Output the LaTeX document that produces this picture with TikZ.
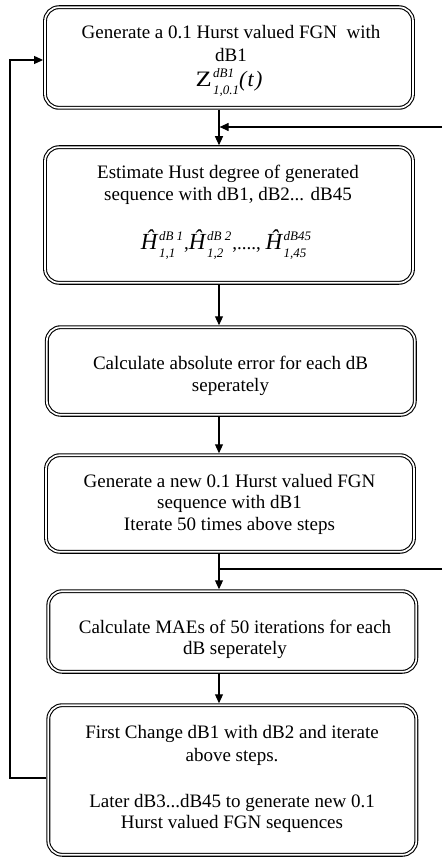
\documentclass[tikz,border=0pt]{standalone}
\usepackage{fontspec}
\setmainfont{Liberation Serif}
\usetikzlibrary{arrows.meta}
\newcommand\supsub[2]{\begingroup\fontsize{13}{13}\selectfont\itshape
  \setbox0=\hbox{#1}\setbox2=\hbox{#2}%
  \ifdim\wd0>\wd2 \wd2=\wd0 \fi
  \kern1.5pt\rlap{\raisebox{9pt}{\box0}}\raisebox{-8pt}{\box2}\endgroup}
\newcommand\mathsz{\fontsize{23}{24}\selectfont}
\newcommand\Hh{{\mathsz\itshape Ĥ}}
\newcommand\lines[1]{\begin{tabular}[t]{@{}c@{}}#1\end{tabular}}
\begin{document}
\begin{tikzpicture}[x=1pt,y=-1pt,
  flowbox/.style={draw, line width=1.1pt, double, double distance=1.7pt,
    rounded corners=14pt, inner sep=0pt, outer sep=1.95pt,
    minimum width=368pt},
  boxtext/.style={anchor=base, inner sep=0pt, font=\fontsize{19}{22}\selectfont},
  conn/.style={line width=1.1pt, -{Triangle[length=9pt,width=8pt]}},
  wire/.style={line width=1.1pt}]
\useasboundingbox (0,0) rectangle (442,858);

% boxes
\node[flowbox, minimum height=100.6pt] (b1) at (229,57.5) {};
\node[flowbox, minimum height=135.6pt] (b2) at (229,215) {};
\node[flowbox, minimum height=87.6pt] (b3) at (230.8,371) {};
\node[flowbox, minimum height=96.6pt] (b4) at (230,503.5) {};
\node[flowbox, minimum height=80.6pt] (b5) at (232.3,631.5) {};
\node[flowbox, minimum height=149.6pt] (b6) at (232.3,780) {};

% texts
\node[boxtext] (t1) at (231,39)
  {\lines{Generate a 0.1 Hurst valued FGN~ with\\[1pt] dB1}};
\node[boxtext] (m1) at (229,87)
  {{\fontsize{22}{24}\selectfont\scalebox{1.2}[1]{Z}}\supsub{dB1}{1,0.1}{\fontsize{22}{24}\selectfont\itshape (\kern1pt t\kern1.5pt)}};
\node[boxtext] (t2) at (228,178.5)
  {\lines{Estimate Hust degree of generated\\[0.5pt] sequence with dB1, dB2... dB45}};
\node[boxtext] (m2) at (226,250)
  {\Hh\supsub{dB 1}{1,1}\kern1pt ,\Hh\supsub{dB 2}{1,2}\kern1pt ,...., \Hh\supsub{dB45}{1,45}};
\node[boxtext] (t3) at (230.5,369.3)
  {\lines{Calculate absolute error for each dB\\ seperately}};
\node[boxtext] (t4) at (229.5,487)
  {\lines{Generate a new 0.1 Hurst valued FGN\\[-0.5pt] sequence with dB1\\[-0.5pt] Iterate 50 times above steps}};
\node[boxtext] (t5) at (235,633)
  {\lines{Calculate MAEs of 50 iterations for each\\[-1pt] dB seperately}};
\node[boxtext] (t6) at (232,738)
  {\lines{First Change dB1 with dB2 and iterate\\[1pt] above steps.\\[24pt]
   Later dB3...dB45 to generate new 0.1\\[-1pt] Hurst valued FGN sequences}};

% connectors
\coordinate (ax) at (219,0);
\coordinate (lx) at (10,0);
\coordinate (r1) at (442,127);
\coordinate (r2) at (442,569);

\draw[conn] (b1.south -| ax) -- (b2.north -| ax);
\draw[conn] (b2.south -| ax) -- (b3.north -| ax);
\draw[conn] (b3.south -| ax) -- (b4.north -| ax);
\draw[conn] (b4.south -| ax) -- (b5.north -| ax);
\draw[conn] (b5.south -| ax) -- (b6.north -| ax);
\draw[conn, shorten >=0.6pt] (r1) -- (r1 -| ax);
\draw[wire] (r2) -- (r2 -| ax);
\draw[conn] ([yshift=2pt]b6.west) -- ([yshift=2pt]b6.west -| lx) |- ([yshift=-2.5pt]b1.west);
\end{tikzpicture}
\end{document}
